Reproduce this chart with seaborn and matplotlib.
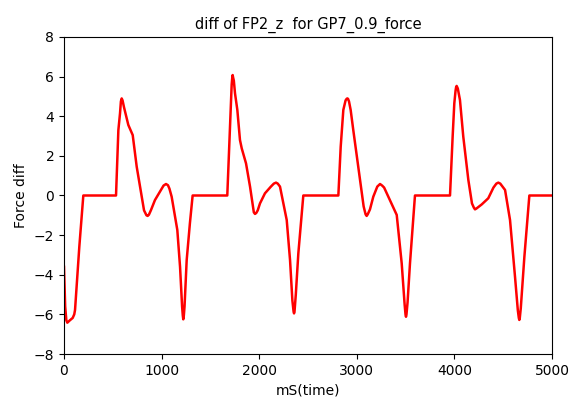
import matplotlib
matplotlib.use("Agg")
import matplotlib.pyplot as plt
import seaborn as sns
import pandas as pd

# values
time_ms = [0, 12, 24, 34, 60, 89, 105, 113, 157, 198,
           533, 557, 574, 583, 591, 600, 615, 659, 704, 745, 779, 820, 845, 857, 870, 890, 932, 990, 1020, 1045, 1065, 1080,
           1103, 1161, 1189, 1210, 1217, 1222, 1228, 1235, 1257, 1290, 1318,
           1673, 1701, 1718, 1724, 1728, 1733, 1740, 1752, 1776, 1803, 1821, 1865, 1906, 1945, 1957, 1970, 1985, 2008, 2059, 2120,
           2150, 2172, 2190, 2213, 2282, 2316, 2340, 2352, 2357, 2362, 2375, 2401, 2452,
           2811, 2835, 2862, 2885, 2896, 2903, 2910, 2920, 2937, 2964, 3033, 3070, 3090, 3101, 3112, 3135, 3169, 3210, 3238, 3260, 3280, 3323,
           3409, 3460, 3490, 3499, 3504, 3509, 3520, 3545, 3596,
           3955, 3982, 3999, 4012, 4018, 4023, 4028, 4035, 4057, 4091, 4143, 4180, 4200, 4211, 4225, 4280, 4347, 4400, 4430, 4450, 4470, 4519,
           4570, 4621, 4650, 4660, 4665, 4670, 4680, 4717, 4768, 5000]
force_diff = [-3.6, -5.6, -6.3, -6.42, -6.3, -6.18, -6.0, -5.78, -2.58, 0.0,
              0.0, 3.3, 4.15, 4.75, 4.9, 4.8, 4.45, 3.56, 3.05, 1.45, 0.45, -0.75, -1.0, -1.03, -0.97, -0.75, -0.23, 0.25, 0.5, 0.58, 0.52, 0.35,
              -0.06, -1.74, -3.6, -5.6, -6.05, -6.25, -6.05, -5.6, -3.26, -1.4, 0.0,
              0.0, 3.47, 5.6, 5.95, 6.08, 5.95, 5.8, 5.16, 4.32, 2.8, 2.38, 1.62, 0.45, -0.85, -0.93, -0.88, -0.75, -0.4, 0.11, 0.45,
              0.6, 0.65, 0.6, 0.45, -1.24, -3.26, -5.3, -5.85, -5.95, -5.85, -5.0, -2.92, 0.0,
              0.0, 2.46, 4.32, 4.8, 4.88, 4.9, 4.88, 4.75, 4.32, 3.3, 0.78, -0.55, -0.95, -1.03, -0.95, -0.7, -0.06, 0.45, 0.58, 0.5, 0.4, -0.06,
              -0.98, -3.42, -5.5, -6.0, -6.12, -6.0, -5.4, -3.42, 0.0,
              0.0, 2.97, 4.65, 5.3, 5.48, 5.53, 5.48, 5.4, 4.82, 2.97, 0.78, -0.4, -0.62, -0.70, -0.66, -0.45, -0.14, 0.4, 0.6, 0.65, 0.6, 0.28,
              -1.24, -4.1, -5.8, -6.18, -6.28, -6.18, -5.7, -3.09, 0.0, 0.0]

title = "diff of FP2_z  for GP7_0.9_force"
x_label = "mS(time)"
y_label = "Force diff"

df = pd.DataFrame({"t": time_ms, "f": force_diff})

fig = plt.figure(figsize=(5.71, 3.99), dpi=100)
ax = fig.add_axes([64 / 571, 1 - 354 / 399, (552 - 64) / 571, (354 - 37) / 399])
sns.lineplot(data=df, x="t", y="f", ax=ax, color="red", linewidth=1.8,
             estimator=None, sort=False)
ax.set_xlim(0, 5000)
ax.set_ylim(-8, 8)
ax.set_xticks([0, 1000, 2000, 3000, 4000, 5000])
ax.set_yticks([-8, -6, -4, -2, 0, 2, 4, 6, 8])
ax.set_title(title, fontsize=10.5)
ax.set_xlabel(x_label, fontsize=10)
ax.set_ylabel(y_label, fontsize=10)
ax.tick_params(labelsize=10)
fig.savefig("out.png", dpi=100)
